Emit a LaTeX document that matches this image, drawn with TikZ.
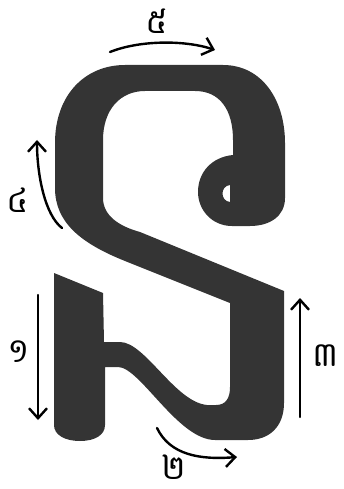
\documentclass[tikz,border=0pt]{standalone}
\usepackage{fontspec}
\newfontfamily\khmerfont[Script=Khmer]{Battambang}
\usetikzlibrary{positioning, arrows.meta}
\definecolor{glyphgray}{RGB}{52,52,52}

\begin{document}
\begin{tikzpicture}[
        x=1pt, y=-1pt,
        every node/.style={inner sep=0pt, anchor=base, text depth=0pt,
            font=\khmerfont\fontsize{34}{34}\selectfont},
        stroke/.style={->, line width=2.4pt, line cap=round},
        >={Straight Barb[length=10pt, width=18pt, line width=2.4pt]}
    ]
        \useasboundingbox (0,0) rectangle (343,489);

        % the letter
        \fill[glyphgray, even odd rule]
            (54,273) -- (103,293) -- (104,342) -- (120,342)
            .. controls (145,342) and (175,402) .. (207,405)
            -- (216,405)
            .. controls (226,405) and (230,398) .. (230,387)
            -- (230,303) -- (125,261)
            .. controls (80,243) and (55,222) .. (55,188)
            -- (55,143)
            .. controls (55,95) and (85,65) .. (125,65)
            -- (223,65)
            .. controls (262,65) and (285,100) .. (285,143)
            -- (285,198)
            .. controls (285,216) and (270,226) .. (250,226)
            -- (232,226)
            .. controls (212,226) and (198,210) .. (198,192)
            .. controls (198,172) and (212,157) .. (233,155)
            -- (233,140)
            .. controls (233,110) and (220,91) .. (195,91)
            -- (145,91)
            .. controls (120,91) and (103,110) .. (103,140)
            -- (103,198)
            .. controls (103,215) and (118,226) .. (140,232)
            -- (284,291) -- (284,403)
            .. controls (284,426) and (270,440) .. (248,440)
            -- (215,440)
            .. controls (178,440) and (140,367) .. (118,367)
            -- (105,367) -- (105,425)
            .. controls (105,435) and (95,441) .. (80,441)
            .. controls (65,441) and (54,435) .. (54,425)
            -- cycle
            (230,185) .. controls (220,186) and (220,201) .. (230,202) -- cycle;

        % stroke order
        \coordinate (a1) at (38,295);
        \coordinate (b1) at (38,420);
        \coordinate (a2) at (157,428);
        \coordinate (b2) at (237,457);
        \coordinate (a3) at (300,417);
        \coordinate (b3) at (300,298);
        \coordinate (a4) at (62,228);
        \coordinate (b4) at (37,140);
        \coordinate (a5) at (110,52);
        \coordinate (b5) at (215,50);

        \draw[stroke] (a1) -- (b1);
        \draw[stroke] (a2) .. controls (170,455) and (200,460) .. (b2);
        \draw[stroke] (a3) -- (b3);
        \draw[stroke] (a4) .. controls (45,215) and (37,175) .. (b4);
        \draw[stroke] (a5) .. controls (140,40) and (185,40) .. (b5);

        \node (n1) at (19,362) {១};
        \node (n2) at (174,479) {២};
        \node (n3) at (326,366) {៣};
        \node (n4) at (18,212) {៤};
        \node (n5) at (157,34) {៥};
    \end{tikzpicture}
\end{document}
